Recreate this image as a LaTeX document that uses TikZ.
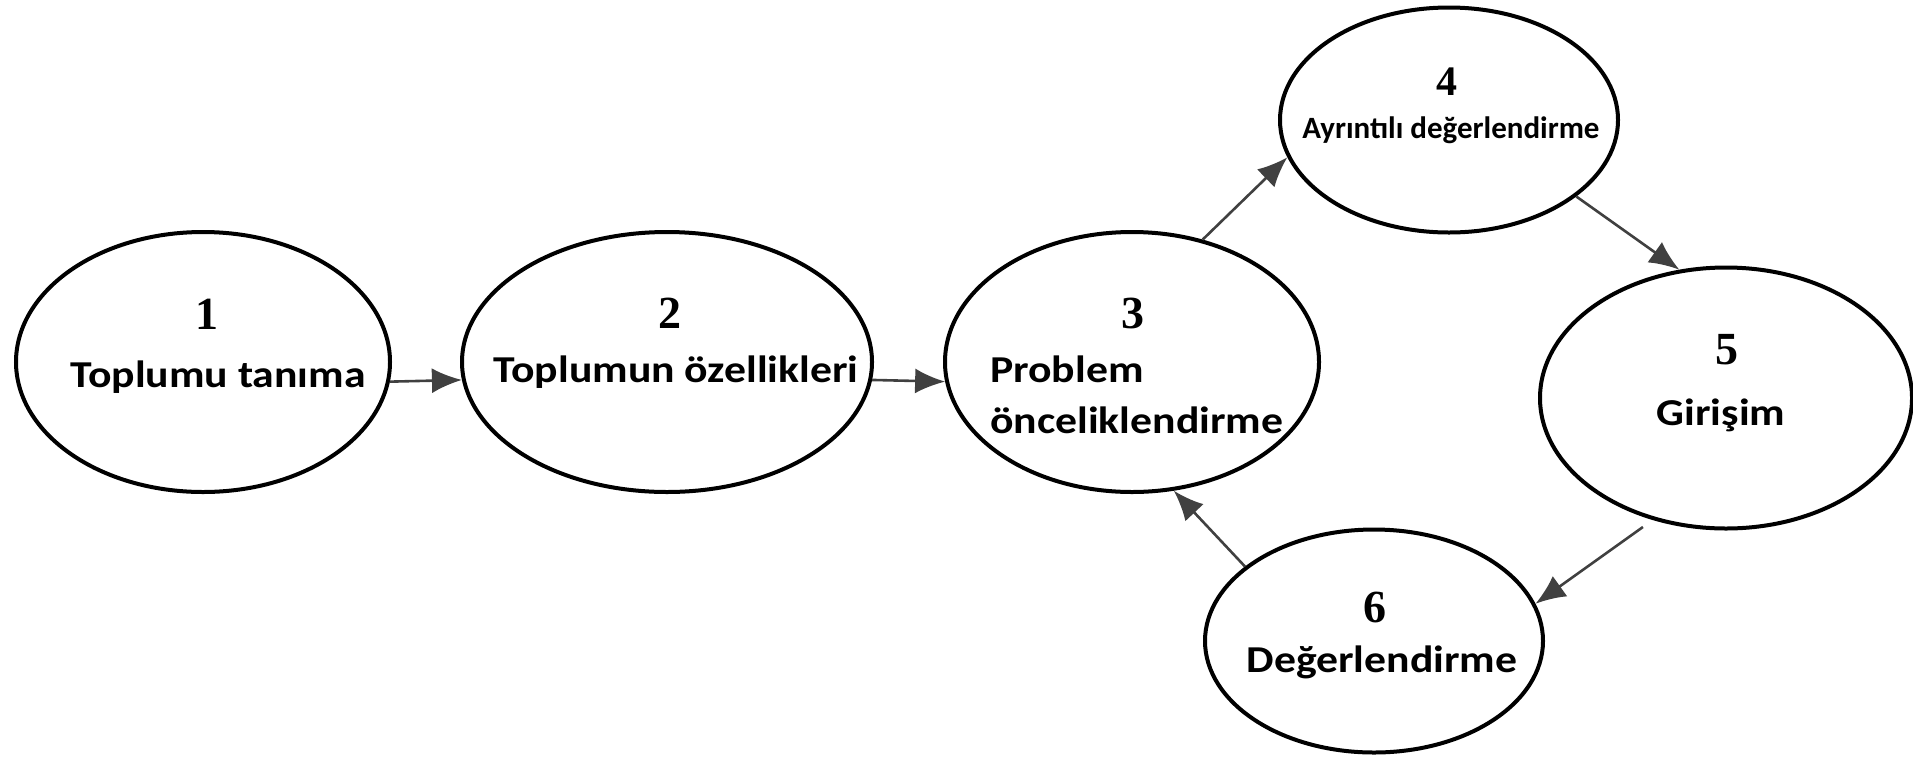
\documentclass[tikz,border=0pt]{standalone}
\usepackage{fontspec}
\usepackage{tikz}
\usetikzlibrary{arrows.meta, shapes.geometric}

\newfontfamily\stagefont{Carlito}[FakeStretch=1.15]
\newfontfamily\smallstagefont{Carlito}
\newfontfamily\digitfont{Liberation Serif}

\tikzset{
  stage/.style={ellipse, draw, line width=4pt, inner sep=0pt},
  num/.style={inner sep=0pt, font=\fontsize{46}{46}\digitfont\bfseries},
  lbl/.style={inner sep=0pt, anchor=base, font=\fontsize{38}{46}\stagefont\bfseries},
  flow/.style={draw=black!75, line width=2.6pt, -{Latex[length=30pt,width=25pt]}},
}

\begin{document}
\begin{tikzpicture}[x=1pt, y=-1pt]

\useasboundingbox (0,0) rectangle (1913,756);

% stages
\node [stage, minimum width=374pt, minimum height=260pt] (e1) at (203,362) {};
\node [stage, minimum width=410pt, minimum height=260pt] (e2) at (667,362) {};
\node [stage, minimum width=374pt, minimum height=260pt] (e3) at (1132,362) {};
\node [stage, minimum width=338pt, minimum height=225pt] (e4) at (1449,120) {};
\node [stage, minimum width=372pt, minimum height=261pt] (e5) at (1726,398) {};
\node [stage, minimum width=338pt, minimum height=223pt] (e6) at (1374,641) {};

% numbers and names
\node [num] (n1) at (207,314) {1};
\node [lbl] (l1) at (218,387) {Toplumu tanıma};
\node [num] (n2) at (670,313) {2};
\node [lbl] (l2) at (676,382) {Toplumun özellikleri};
\node [num] (n3) at (1133,313) {3};
\node [lbl, anchor=base west] (l3) at (990,382) {Problem};
\node [lbl, anchor=base west] (l3b) at (990,433) {önceliklendirme};
\node [num, font=\fontsize{42}{42}\digitfont\bfseries] (n4) at (1447,82) {4};
\node [lbl, font=\fontsize{31}{36}\smallstagefont\bfseries] (l4) at (1451,138) {Ayrıntılı değerlendirme};
\node [num] (n5) at (1727,350) {5};
\node [lbl] (l5) at (1721,425) {Girişim};
\node [num] (n6) at (1375,607) {6};
\node [lbl] (l6) at (1382,672) {Değerlendirme};

\path (e1.-6.2)  edge [flow] (e2.185.6)
      (e2.-5.6)  edge [flow] (e3.186.2)
      (e3.60)    edge [flow] (e4.193)
      (e4.-31)   edge [flow] (e5.110)
      (e5.239)   edge [flow, shorten <=12pt] (e6.13)
      (e6.150)   edge [flow] (e3.-72);

\end{tikzpicture}
\end{document}
